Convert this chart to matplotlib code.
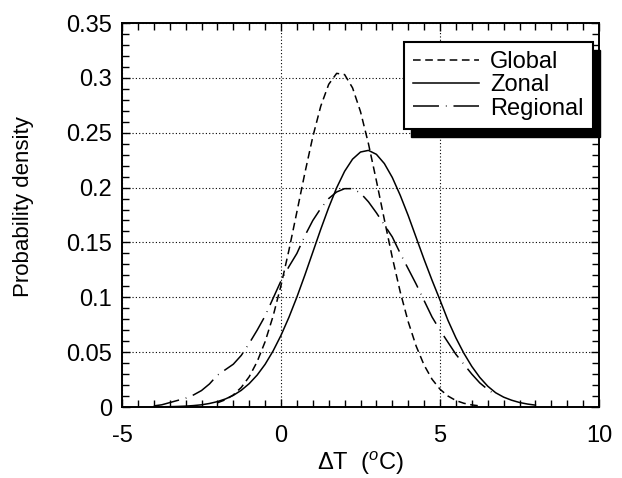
import matplotlib
matplotlib.use("Agg")
import matplotlib.pyplot as plt
from matplotlib.patches import Rectangle
from matplotlib.ticker import MultipleLocator

plt.rcParams['font.family'] = ['Liberation Sans', 'DejaVu Sans']
plt.rcParams['mathtext.fontset'] = 'custom'
plt.rcParams['mathtext.rm'] = 'Liberation Sans'
plt.rcParams['mathtext.it'] = 'Liberation Sans:italic'

# ---- data ----
zonal_x = [-4.0, -3.75, -3.5, -3.25, -3.0, -2.75, -2.5, -2.25, -2.0, -1.75, -1.5, -1.25,
           -1.0, -0.75, -0.5, -0.25, 0.0, 0.25, 0.5, 0.75, 1.0, 1.25, 1.5, 1.75, 2.0, 2.25,
           2.5, 2.75, 3.0, 3.25, 3.5, 3.75, 4.0, 4.25, 4.5, 4.75, 5.0, 5.25, 5.5, 5.75,
           6.0, 6.25, 6.5, 6.75, 7.0, 7.25, 7.5, 7.75, 8.0]
zonal_y = [0.0001, 0.0002, 0.0003, 0.0005, 0.0008, 0.0013, 0.0020, 0.0032, 0.0049, 0.0073,
           0.0106, 0.0152, 0.0213, 0.0291, 0.0389, 0.0510, 0.0653, 0.0818, 0.1002, 0.1202,
           0.1411, 0.1620, 0.1818, 0.1998, 0.2148, 0.2259, 0.2324, 0.2339, 0.2303, 0.2219,
           0.2092, 0.1929, 0.1745, 0.1545, 0.1345, 0.1155, 0.0975, 0.0790, 0.0630, 0.0490,
           0.0370, 0.0270, 0.0190, 0.0130, 0.0090, 0.0062, 0.0041, 0.0027, 0.0017]

global_x = [-2.0, -1.75, -1.5, -1.25, -1.0, -0.75, -0.5, -0.25, 0.0, 0.25, 0.5, 0.75, 1.0,
            1.25, 1.5, 1.75, 2.0, 2.25, 2.5, 2.75, 3.0, 3.25, 3.5, 3.75, 4.0, 4.25, 4.5,
            4.75, 5.0, 5.25, 5.5, 5.75, 6.0, 6.25]
global_y = [0.0038, 0.0066, 0.0110, 0.0178, 0.0276, 0.0413, 0.0595, 0.0827, 0.1108, 0.1430,
            0.1779, 0.2132, 0.2463, 0.2742, 0.2941, 0.3041, 0.3030, 0.2909, 0.2692, 0.2400,
            0.2062, 0.1708, 0.1363, 0.1048, 0.0777, 0.0555, 0.0382, 0.0253, 0.0162, 0.0100,
            0.0059, 0.0034, 0.0019, 0.0010]

regional_x = [-4.0, -3.75, -3.5, -3.25, -3.0, -2.75, -2.5, -2.25, -2.0, -1.75, -1.5, -1.25,
              -1.0, -0.75, -0.5, -0.25, 0.0, 0.25, 0.5, 0.75, 1.0, 1.25, 1.5, 1.75, 2.0,
              2.25, 2.5, 2.75, 3.0, 3.25, 3.5, 3.75, 4.0, 4.25, 4.5, 4.75, 5.0, 5.25, 5.5,
              5.75, 6.0, 6.25, 6.5, 6.75]
regional_y = [0.001, 0.002, 0.004, 0.006, 0.008, 0.011, 0.015, 0.021, 0.029, 0.034, 0.039,
              0.047, 0.058, 0.070, 0.083, 0.099, 0.115, 0.128, 0.140, 0.156, 0.170, 0.181,
              0.190, 0.196, 0.199, 0.199, 0.195, 0.187, 0.177, 0.166, 0.155, 0.140, 0.126,
              0.112, 0.097, 0.082, 0.070, 0.059, 0.048, 0.039, 0.030, 0.022, 0.016, 0.011]

series_labels = ["Global", "Zonal", "Regional"]
x_ticks = [-5, 0, 5, 10]
y_ticks = [0, 0.05, 0.1, 0.15, 0.2, 0.25, 0.3, 0.35]
y_tick_labels = ["0", "0.05", "0.1", "0.15", "0.2", "0.25", "0.3", "0.35"]

# ---- figure ----
fig = plt.figure(figsize=(6.22, 4.78), dpi=100)
ax = fig.add_axes([122 / 622, 1 - 407 / 478, 477 / 622, 384 / 478])

ax.plot(global_x, global_y, color='black', lw=1.1, linestyle=(0, (5, 3)),
        label=series_labels[0], zorder=3)
ax.plot(zonal_x, zonal_y, color='black', lw=1.1, linestyle='-',
        label=series_labels[1], zorder=3)
ax.plot(regional_x, regional_y, color='black', lw=1.1, linestyle=(0, (17, 4.5, 0.5, 4.5)),
        label=series_labels[2], zorder=3)

ax.set_xlim(-5, 10)
ax.set_ylim(0, 0.35)
ax.set_xticks(x_ticks)
ax.set_xticklabels([str(t) for t in x_ticks])
ax.set_yticks(y_ticks)
ax.set_yticklabels(y_tick_labels)
ax.xaxis.set_minor_locator(MultipleLocator(0.5))
ax.yaxis.set_minor_locator(MultipleLocator(0.01))

ax.tick_params(which='both', direction='in', top=True, right=True, color='black', width=1.0)
ax.tick_params(which='major', length=6)
ax.tick_params(which='minor', length=5)
ax.tick_params(axis='x', which='major', labelsize=17, pad=13)
ax.tick_params(axis='y', which='major', labelsize=17, pad=7)

for s in ax.spines.values():
    s.set_linewidth(1.4)
    s.set_color('black')

ax.grid(True, which='major', color='black', linestyle=(0, (1, 2)), linewidth=0.8)

ax.set_ylabel("Probability density", fontsize=16)
ax.yaxis.set_label_coords(-0.2075, 0.523)
ax.yaxis.label.set_va('center')
ax.set_xlabel(r"ΔT  ($^o$C)", fontsize=17)
ax.xaxis.set_label_coords(0.5, -0.146)
ax.xaxis.label.set_va('center')

leg = ax.legend(loc='upper right', bbox_to_anchor=(0.987, 0.951), borderaxespad=0,
                fontsize=17, frameon=True, fancybox=False, edgecolor='black',
                framealpha=1, handlelength=2.8, handletextpad=0.45, labelspacing=0.05,
                borderpad=0.4)
leg.get_frame().set_linewidth(1.5)
leg.set_zorder(6)

fig.canvas.draw()
bb = leg.get_window_extent().transformed(ax.transAxes.inverted())
dx = 7 / 477
dy = 8 / 384
shadow = Rectangle((bb.x0 + dx, bb.y0 - dy), bb.width, bb.height,
                   transform=ax.transAxes, facecolor='black', edgecolor='black',
                   zorder=5.5, clip_on=False)
ax.add_patch(shadow)

fig.savefig("out.png", dpi=100)
